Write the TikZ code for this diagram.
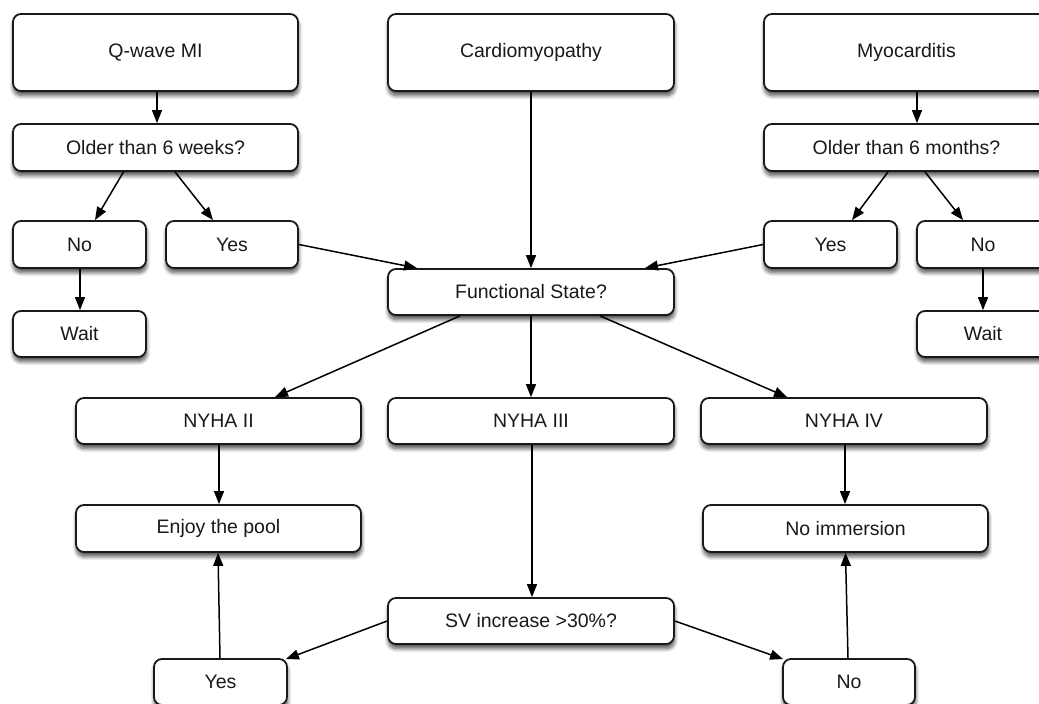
\documentclass[tikz,border=0pt]{standalone}
\usepackage{fontspec}
\setmainfont{Liberation Sans}
\usetikzlibrary{arrows.meta,shadows.blur}
\begin{document}
\begin{tikzpicture}[x=1pt,y=-1pt,
  box/.style={draw=black!90, line width=1.8pt, rounded corners=8pt, fill=white,
    inner sep=0pt, font=\fontsize{19.5}{23}\selectfont, text=black!90,
    blur shadow={shadow xshift=0.5pt, shadow yshift=-4.5pt, shadow blur radius=4pt, shadow blur steps=8, shadow opacity=70}},
  arr/.style={draw=black, line width=1.5pt, -{Triangle[length=13pt,width=10pt]}}]
\useasboundingbox (0,0) rectangle (1039,704);
\clip (0,0) rectangle (1039,704);
% top row
\node[box, minimum width=285pt, minimum height=77pt] (qmi) at (155.5,52.5) {Q-wave MI};
\node[box, minimum width=286pt, minimum height=77pt] (cardio) at (531,52.5) {Cardiomyopathy};
\node[box, minimum width=285pt, minimum height=77pt] (myo) at (906.5,52.5) {Myocarditis};
% questions
\node[box, minimum width=285pt, minimum height=47pt] (old6w) at (155.5,147.5) {Older than 6 weeks?};
\node[box, minimum width=285pt, minimum height=47pt] (old6m) at (906.5,147.5) {Older than 6 months?};
% yes/no
\node[box, minimum width=133pt, minimum height=47pt] (noL) at (79.5,244.5) {No};
\node[box, minimum width=132pt, minimum height=47pt] (yesL) at (232,244.5) {Yes};
\node[box, minimum width=133pt, minimum height=47pt] (yesR) at (830.5,244.5) {Yes};
\node[box, minimum width=132pt, minimum height=47pt] (noR) at (983,244.5) {No};
\node[box, minimum width=286pt, minimum height=46pt] (func) at (531,292) {Functional State?};
\node[box, minimum width=133pt, minimum height=46pt] (waitL) at (79.5,334) {Wait};
\node[box, minimum width=132pt, minimum height=46pt] (waitR) at (983,334) {Wait};
% NYHA
\node[box, minimum width=285pt, minimum height=46pt] (ny2) at (218.5,421) {NYHA II};
\node[box, minimum width=286pt, minimum height=46pt] (ny3) at (531,421) {NYHA III};
\node[box, minimum width=286pt, minimum height=46pt] (ny4) at (844,421) {NYHA IV};
\node[box, minimum width=285pt, minimum height=47pt] (enjoy) at (218.5,528.5) {Enjoy the pool};
\node[box, minimum width=285pt, minimum height=47pt] (noimm) at (845.5,528.5) {No immersion};
\node[box, minimum width=286pt, minimum height=46pt] (sv) at (531,621) {SV increase >30\%?};
\node[box, minimum width=133pt, minimum height=46pt] (yesB) at (220.5,682) {Yes};
\node[box, minimum width=132pt, minimum height=46pt] (noB) at (849,682) {No};
% connectors
\draw[arr] ([xshift=1.5pt]qmi.south) -- ([xshift=1.5pt]old6w.north);
\draw[arr] ([xshift=10.5pt]myo.south) -- ([xshift=10.5pt]old6m.north);
\draw[arr] ([xshift=-32pt]old6w.south) -- ([xshift=15.5pt]noL.north);
\draw[arr] ([xshift=19.5pt]old6w.south) -- ([xshift=-19pt]yesL.north);
\draw[arr] ([xshift=-18.5pt]old6m.south) -- ([xshift=21.5pt]yesR.north);
\draw[arr] ([xshift=18.5pt]old6m.south) -- ([xshift=-20pt]noR.north);
\draw[arr] (yesL.east) -- ([xshift=-114pt]func.north);
\draw[arr] (cardio.south) -- (func.north);
\draw[arr] (yesR.west) -- ([xshift=114pt]func.north);
\draw[arr] ([xshift=0.5pt]noL.south) -- ([xshift=0.5pt]waitL.north);
\draw[arr] (noR.south) -- (waitR.north);
\draw[arr] ([xshift=-71pt]func.south) -- ([xshift=56.5pt]ny2.north);
\draw[arr] (func.south) -- (ny3.north);
\draw[arr] ([xshift=69pt]func.south) -- ([xshift=-57pt]ny4.north);
\draw[arr] ([xshift=0.5pt]ny2.south) -- ([xshift=0.5pt]enjoy.north);
\draw[arr] ([xshift=1pt]ny4.south) -- ([xshift=-0.5pt]noimm.north);
\draw[arr] ([xshift=1pt]ny3.south) -- ([xshift=1pt]sv.north);
\draw[arr] (sv.west) -- ([xshift=-2pt,yshift=-1pt]yesB.north east);
\draw[arr] (sv.east) -- ([xshift=1pt,yshift=-1pt]noB.north west);
\draw[arr] ([xshift=-0.5pt]yesB.north) -- ([xshift=-0.5pt]enjoy.south);
\draw[arr] ([xshift=-1pt]noB.north) -- (noimm.south);
\end{tikzpicture}
\end{document}
